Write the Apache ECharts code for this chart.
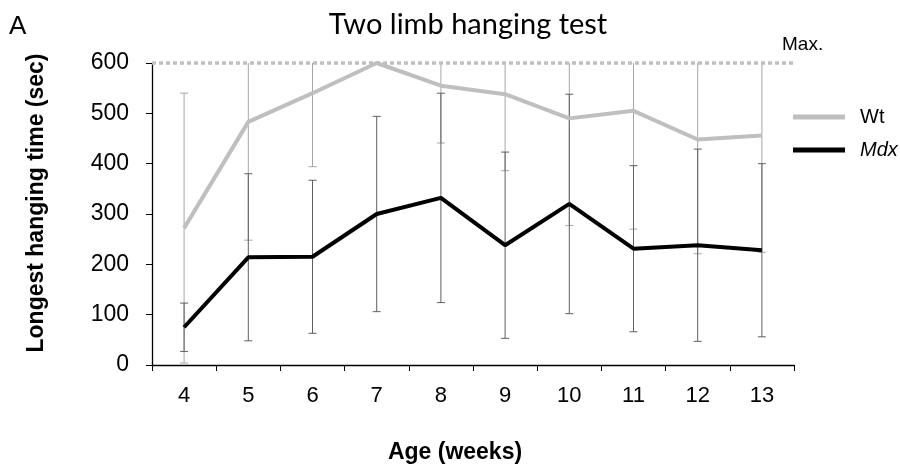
<!DOCTYPE html>
<html>
<head>
<meta charset="utf-8">
<script src="https://cdn.jsdelivr.net/npm/echarts@6/dist/echarts.min.js"></script>
<style>
  html, body { margin: 0; padding: 0; background: #fff; }
  #chart { width: 900px; height: 465px; }
</style>
</head>
<body>
<div id="chart"></div>
<script>
// data
const ages = ['4', '5', '6', '7', '8', '9', '10', '11', '12', '13'];
const wtMean = [272, 483, 540, 600, 555, 538, 490, 505, 448, 456];
const wtErr = [268, 235, 146, 0, 114, 152, 213, 235, 227, 232];
const mdxMean = [75, 214, 215, 300, 332, 238, 320, 231, 238, 228];
const mdxErr = [48, 166, 152, 194, 208, 185, 218, 165, 191, 172];
const yTicks = [0, 100, 200, 300, 400, 500, 600];
const maxTime = 600;

const font = 'Liberation Sans, Arial, sans-serif';

const errData = (mean, err) => mean.map((m, i) => [i, m - err[i], m + err[i]]);

// vertical bar with small caps
const renderErr = (params, api) => {
  const lo = api.coord([api.value(0), api.value(1)]);
  const hi = api.coord([api.value(0), api.value(2)]);
  const half = 4;
  const style = { stroke: api.visual('color'), lineWidth: 1 };
  return {
    type: 'group',
    children: [
      { type: 'line', shape: { x1: lo[0], y1: lo[1], x2: hi[0], y2: hi[1] }, style },
      { type: 'line', shape: { x1: lo[0] - half, y1: lo[1], x2: lo[0] + half, y2: lo[1] }, style },
      { type: 'line', shape: { x1: hi[0] - half, y1: hi[1], x2: hi[0] + half, y2: hi[1] }, style }
    ]
  };
};

const chart = echarts.init(document.getElementById('chart'));

const option = {
  animation: false,
  title: {
    text: 'Two limb hanging test',
    left: 463,
    top: 5,
    textAlign: 'center',
    textStyle: { fontFamily: 'Lato, sans-serif', fontSize: 29, fontWeight: 'normal', color: '#000' }
  },
  graphic: [
    { type: 'text', left: 9, top: 14, style: { text: 'A', font: '26px ' + font, fill: '#000' } },
    { type: 'text', left: 782, top: 35, style: { text: 'Max.', font: '19px ' + font, fill: '#000' } }
  ],
  legend: {
    orient: 'vertical',
    left: 788,
    top: 102,
    itemWidth: 52,
    itemHeight: 5,
    itemGap: 13,
    icon: 'rect',
    data: ['Wt', 'Mdx'],
    formatter: name => name === 'Mdx' ? '{i|Mdx}' : '{n|Wt}',
    textStyle: {
      rich: {
        n: { fontFamily: font, fontSize: 20, color: '#000', padding: [0, 0, 0, 10] },
        i: { fontFamily: font, fontSize: 20, fontStyle: 'italic', color: '#000', padding: [0, 0, 0, 10] }
      }
    }
  },
  grid: { left: 152, right: 106, top: 63, bottom: 100, outerBoundsMode: 'none', containLabel: false },
  xAxis: {
    type: 'category',
    data: ages,
    name: 'Age (weeks)',
    nameLocation: 'middle',
    nameGap: 76,
    nameTextStyle: { fontFamily: font, fontSize: 23, fontWeight: 'bold', color: '#000', padding: [0, 36, 0, 0] },
    axisLine: { lineStyle: { color: '#000', width: 1.3 } },
    axisTick: { show: true, length: 6, lineStyle: { color: '#000' } },
    axisLabel: { fontFamily: font, fontSize: 22, color: '#000', margin: 20 },
    splitLine: { show: false }
  },
  yAxis: {
    type: 'value',
    min: 0,
    max: yTicks[yTicks.length - 1],
    interval: yTicks[1] - yTicks[0],
    name: 'Longest hanging time (sec)',
    nameLocation: 'middle',
    nameGap: 104,
    nameTextStyle: { fontFamily: font, fontSize: 23, fontWeight: 'bold', color: '#000', padding: [0, 0, 0, 22] },
    axisLine: { show: true, lineStyle: { color: '#000', width: 1.3 } },
    axisTick: { show: true, length: 6, lineStyle: { color: '#000' } },
    axisLabel: { fontFamily: font, fontSize: 23, color: '#000', margin: 23 },
    splitLine: { show: false }
  },
  series: [
    {
      name: 'WtErr',
      type: 'custom',
      renderItem: renderErr,
      data: errData(wtMean, wtErr),
      itemStyle: { color: '#a6a6a6' },
      clip: true,
      z: 1,
      silent: true
    },
    {
      name: 'MdxErr',
      type: 'custom',
      renderItem: renderErr,
      data: errData(mdxMean, mdxErr),
      itemStyle: { color: '#606060' },
      clip: true,
      z: 1,
      silent: true
    },
    {
      name: 'Wt',
      type: 'line',
      data: wtMean,
      symbol: 'none',
      color: '#bfbfbf',
      lineStyle: { width: 4, color: '#bfbfbf' },
      z: 3,
      markLine: {
        silent: true,
        symbol: 'none',
        label: { show: false },
        lineStyle: { type: [4, 3], color: '#bfbfbf', width: 3.5 },
        data: [{ yAxis: maxTime }]
      }
    },
    {
      name: 'Mdx',
      type: 'line',
      data: mdxMean,
      symbol: 'none',
      color: '#000',
      lineStyle: { width: 4, color: '#000' },
      z: 4
    }
  ]
};

chart.setOption(option);
</script>
</body>
</html>
